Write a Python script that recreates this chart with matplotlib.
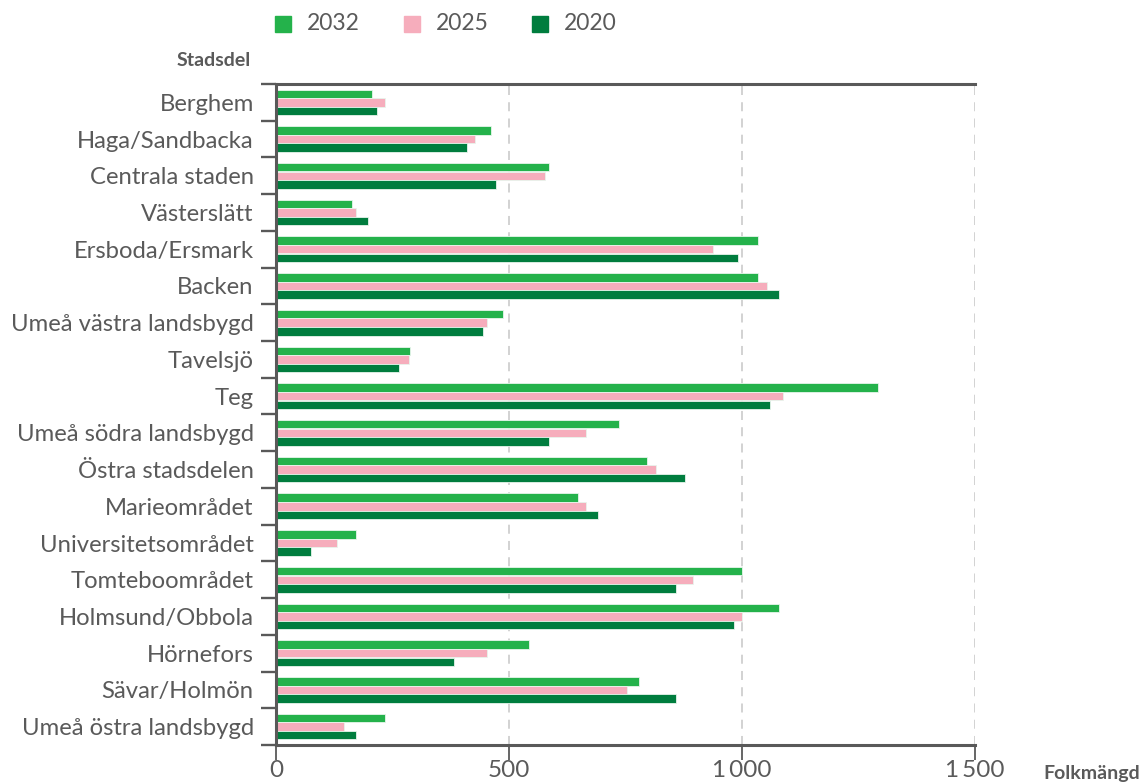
import matplotlib

matplotlib.use("Agg")
import matplotlib.pyplot as plt
import numpy as np
from matplotlib.patches import Rectangle
from matplotlib.transforms import blended_transform_factory

plt.rcParams["font.family"] = ["Lato", "DejaVu Sans"]

districts = [
    "Berghem", "Haga/Sandbacka", "Centrala staden", "Västerslätt",
    "Ersboda/Ersmark", "Backen", "Umeå västra landsbygd", "Tavelsjö", "Teg",
    "Umeå södra landsbygd", "Östra stadsdelen", "Marieområdet",
    "Universitetsområdet", "Tomteboområdet", "Holmsund/Obbola",
    "Hörnefors", "Sävar/Holmön", "Umeå östra landsbygd",
]
pop_2032 = [207, 462, 585, 163, 1035, 1035, 488, 287, 1291, 735,
            797, 647, 171, 999, 1080, 542, 780, 233]
pop_2025 = [233, 427, 577, 171, 937, 1053, 453, 286, 1089, 665,
            815, 665, 131, 894, 1000, 453, 753, 145]
pop_2020 = [216, 410, 472, 198, 991, 1080, 445, 264, 1061, 586,
            877, 692, 75, 859, 983, 383, 859, 171]
years = ["2032", "2025", "2020"]
x_ticks = [0, 500, 1000, 1500]
x_tick_labels = ["0", "500", "1\u2009000", "1\u2009500"]

C_2032 = "#24b24b"
C_2025 = "#f6adbc"
C_2020 = "#007d3e"
colors = [C_2032, C_2025, C_2020]
SPINE = "#595959"
TEXT = "#5a5a5a"

W, H = 1142, 783
fig = plt.figure(figsize=(W / 100, H / 100), dpi=100)
ax = fig.add_axes([276 / W, 1 - 745 / H, 699 / W, 661 / H])

y = np.arange(len(districts))
bh = 0.23
step = 0.235
for vals, off, col in zip([pop_2032, pop_2025, pop_2020],
                          [-step, 0, step], colors):
    ax.barh(y + off, vals, height=bh, color=col, edgecolor="#e8f5ec",
            linewidth=0.6, zorder=2)

ax.set_xlim(0, 1500)
ax.set_ylim(len(districts) - 0.5, -0.5)

# dashed vertical gridlines, behind the bars
for xv in x_ticks[1:]:
    ax.axvline(xv, color="#cfcfcf", linestyle=(0, (5, 4)), linewidth=1.3,
               zorder=1)

ax.set_xticks(x_ticks, x_tick_labels)
ax.tick_params(axis="x", length=11, width=1.3, color=SPINE, labelsize=17.5,
               labelcolor=TEXT, pad=0)

ax.set_yticks(y, districts)
ax.tick_params(axis="y", length=0, labelsize=17.2, labelcolor=TEXT, pad=16)

# category boundary ticks, pointing left of the axis
trans = blended_transform_factory(ax.transAxes, ax.transData)
bounds = np.arange(-0.5, len(districts))
ax.hlines(bounds, -15 / 699, 0, colors=SPINE, linewidth=1.7,
          transform=trans, clip_on=False, zorder=4)

for s in ["top", "bottom", "left"]:
    ax.spines[s].set_color(SPINE)
    ax.spines[s].set_linewidth(2.2)
    ax.spines[s].set_zorder(5)
ax.spines["right"].set_visible(False)

fig.text(251 / W, 1 - 60 / H, "Stadsdel", ha="right", va="center",
         fontsize=14, fontweight="bold", color=TEXT)
fig.text(1043 / W, 1 - 773 / H, "Folkmängd", ha="left", va="center",
         fontsize=14, fontweight="bold", color=TEXT)

# legend drawn by hand: square + label
leg_x = [275, 404, 532]
for xs, col, yr in zip(leg_x, colors, years):
    fig.patches.append(Rectangle((xs / W, 1 - 32 / H), 16 / W, 16 / H,
                                 transform=fig.transFigure, color=col))
    fig.text((xs + 32) / W, 1 - 24 / H, yr, ha="left", va="center",
             fontsize=16.5, color=TEXT)

fig.savefig("out.png", dpi=100)
